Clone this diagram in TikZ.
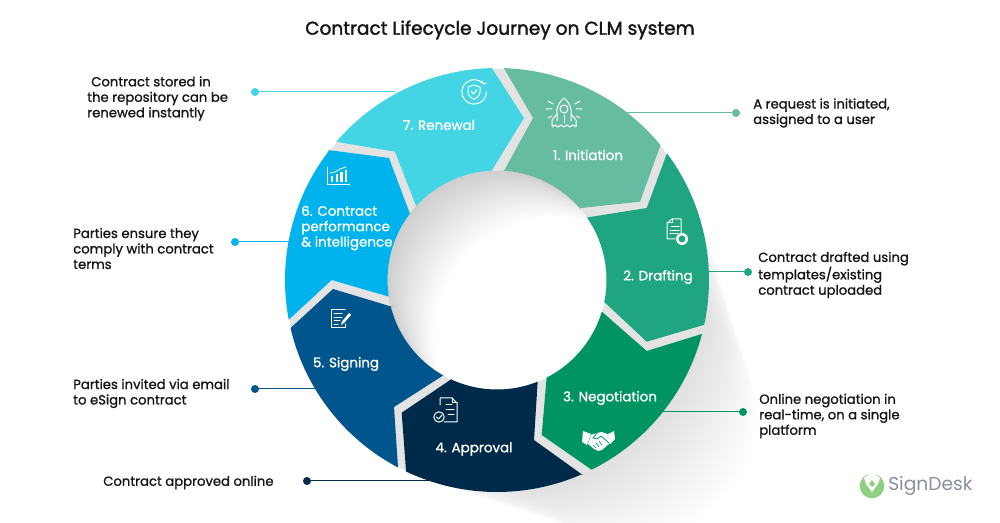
\documentclass[tikz,border=0pt]{standalone}
\usepackage{fontspec}
\setmainfont{Poppins}[FakeBold=1.1]
\newfontfamily\titlefont{Poppins}[FakeBold=1.8]
\newfontfamily\logofont{Poppins}
\definecolor{cseven}{HTML}{43D5E3}
\definecolor{cone}{HTML}{66BCA0}
\definecolor{ctwo}{HTML}{1FA680}
\definecolor{cthree}{HTML}{009463}
\definecolor{cfour}{HTML}{002A4A}
\definecolor{cfive}{HTML}{00568C}
\definecolor{csix}{HTML}{00B3EC}
\definecolor{cgap}{HTML}{E3E3E3}
\definecolor{ctext}{HTML}{151515}
\definecolor{clogo}{HTML}{8A909B}
\definecolor{cleaf}{HTML}{8FCF80}
\newcommand{\Ox}{497+212*cos(\x)}
\newcommand{\Oy}{280-212*sin(\x)}
\newcommand{\Ix}{497+109.5*cos(\x)}
\newcommand{\Iy}{280-109.5*sin(\x)}
\tikzset{
  x=0.75pt,y=-0.75pt,
  rim/.style={samples=40},
  seglabel/.style={text=white,font=\fontsize{10.1}{11.6}\selectfont,align=left,inner sep=0pt},
  note/.style={text=ctext,font=\fontsize{9.9}{11.6}\selectfont,align=left,inner sep=0pt,anchor=west},
  dotn/.style={circle,fill=#1,inner sep=0pt,minimum size=6pt},
  lead/.style={draw=#1,line width=0.75pt},
  icon/.style={draw=white,line width=0.75pt,line join=round,line cap=round},
}
\begin{document}
\begin{tikzpicture}
\useasboundingbox (0,0) rectangle (1000,523);
\fill[white] (0,0) rectangle (1000,523);
% outer long shadow
\begin{scope}
  \clip (0,0) rectangle (1000,523);
  \foreach \i in {1,...,30}{
    \fill[black,opacity=0.0042] ({497+\i*4.5},{280+\i*4.5}) circle[radius={(159-\i*2.2)*1pt}];
  }
\end{scope}
% connectors
\node[dotn=cseven] (d7) at (255,92) {};
\node[dotn=csix] (d6) at (235,242) {};
\node[dotn=cfive] (d5) at (255,389) {};
\node[dotn=cfour] (d4) at (307,481) {};
\node[dotn=cone] (d1) at (736,113) {};
\node[dotn=ctwo] (d2) at (748,272) {};
\node[dotn=cthree] (d3) at (743,412) {};
\coordinate (e7) at (395,92);
\coordinate (e6) at (295,242);
\coordinate (e5) at (325,389);
\coordinate (e4) at (440,481);
\coordinate (e1) at (618,113);
\coordinate (e2) at (695,272);
\coordinate (e3) at (650,412);
\draw[lead=cseven] (d7) -- (e7);
\draw[lead=csix] (d6) -- (e6);
\draw[lead=cfive] (d5) -- (e5);
\draw[lead=cfour] (d4) -- (e4);
\draw[lead=cone] (d1) -- (e1);
\draw[lead=ctwo] (d2) -- (e2);
\draw[lead=cthree] (d3) -- (e3);
% ring base (gaps)
\fill[cgap,even odd rule] (497,280) circle[radius=158.5pt] (497,280) circle[radius=82pt];
% hole
\fill[white] (497,280) circle[radius=82.2pt];
\begin{scope}
  \clip (497,280) circle[radius=82.2pt];
  \foreach \i in {1,...,24}{
    \fill[black,opacity=0.0065,even odd rule] (300,80) rectangle (700,480) ({497+\i*2.4},{280+\i*2.4}) circle[radius={(82+\i*0.35)*1pt}];
  }
\end{scope}
% segments
\fill[cone] (504,68.3) -- plot[rim,domain=88.1:39.5] ({\Ox},{\Oy}) -- (640,201.7) -- (581,208) -- plot[rim,domain=40.6:86.3] ({\Ix},{\Iy}) -- (533,118) -- cycle;
\fill[ctwo] (666.7,154) -- plot[rim,domain=36.6:-12.2] ({\Ox},{\Oy}) -- (646.7,341.7) -- (604,301.7) -- plot[rim,domain=-11.5:34.8] ({\Ix},{\Iy}) -- (646.7,208) -- cycle;
\fill[cthree] (701.7,334) -- plot[rim,domain=-14.8:-63.5] ({\Ox},{\Oy}) -- (541.7,435) -- (546.7,376.7) -- plot[rim,domain=-62.8:-16.8] ({\Ix},{\Iy}) -- (646.7,351) -- cycle;
\fill[cfour] (582.7,475) -- plot[rim,domain=-66.3:-115.4] ({\Ox},{\Oy}) -- (401.7,412.7) -- (451.7,379) -- plot[rim,domain=-114.6:-68.2] ({\Ix},{\Iy}) -- (534,440) -- cycle;
\fill[cfive] (398,467) -- plot[rim,domain=242.1:193.1] ({\Ox},{\Oy}) -- (333,289) -- (391.7,306.7) -- plot[rim,domain=194.2:240.6] ({\Ix},{\Iy}) -- (394,407) -- cycle;
\fill[csix] (328,150) -- plot[rim,domain=142.4:190.8] ({\Ox},{\Oy}) -- (331.7,280) -- (389,296.7) -- plot[rim,domain=188.8:142.7] ({\Ix},{\Iy}) -- (389,158) -- cycle;
\fill[cseven] (336,141.7) -- plot[rim,domain=139.3:91.4] ({\Ox},{\Oy}) -- (524,118) -- (491.7,170.7) -- plot[rim,domain=92.8:137.6] ({\Ix},{\Iy}) -- (395,151.7) -- cycle;
% title
\node[text=ctext,font=\titlefont\fontsize{13.9}{15}\selectfont,inner sep=0pt] (title) at (500,30) {Contract Lifecycle Journey on CLM system};
% segment labels
\node[seglabel] (l7) at (439,125) {7. Renewal};
\node[seglabel] (l1) at (588,155) {1. Initiation};
\node[seglabel] (l2) at (658,277) {2. Drafting};
\node[seglabel] (l3) at (610,398) {3. Negotiation};
\node[seglabel] (l4) at (474,449) {4. Approval};
\node[seglabel] (l5) at (346,364) {5. Signing};
\node[seglabel,anchor=west] (l6) at (301,228) {6. Contract\\performance\\\& intelligence};
% notes
\node[note] (n7) at (87,98.5) {\hspace*{3pt}Contract stored in\\the repository can be\\renewed instantly};
\node[note] (n6) at (73,248.5) {Parties ensure they\\comply with contract\\terms};
\node[note] (n5) at (73,393.5) {Parties invited via email\\to eSign contract};
\node[note] (n4) at (103,482.5) {Contract approved online};
\node[note] (n1) at (753,113) {A request is initiated,\\assigned to a user};
\node[note] (n2) at (758,275) {Contract drafted using\\templates/existing\\contract uploaded};
\node[note] (n3) at (759,416) {Online negotiation in\\real-time, on a single\\platform};
% icon 7: renewal shield
\begin{scope}[shift={(474,92)}]
  \draw[icon] (9.5,-8) arc[start angle=40,end angle=360,radius=9.2pt];
  \draw[icon] (8,-11) -- (9.5,-8) -- (12.5,-9);
  \draw[icon] (0,-7) -- (6,-5) -- (6,0) .. controls (6,4) and (2,6) .. (0,7.5) .. controls (-2,6) and (-6,4) .. (-6,0) -- (-6,-5) -- cycle;
  \draw[icon] (-2.5,-0.5) -- (-0.5,2) -- (3,-2.5);
\end{scope}
% icon 1: rocket
\begin{scope}[shift={(564,113)}]
  \draw[icon] (0,-15) .. controls (-5,-11) and (-8,-5) .. (-7,1) -- (-7,8) (0,-15) .. controls (5,-11) and (8,-5) .. (7,1) -- (7,8);
  \draw[icon] (-7,1) -- (-12,7) -- (-12,14) -- (-9,12) -- (-6,14) -- (-3,12) -- (0,14) -- (3,12) -- (6,14) -- (9,12) -- (12,14) -- (12,7) -- (7,1);
  \draw[icon] (0,-4) circle[radius=3pt];
  \draw[icon] (0,2) -- (0,10);
  \draw[icon] (-16,-12) -- (-11,-9) (-18,-4) -- (-12,-4) (-16,5) -- (-12,3);
  \draw[icon] (16,-12) -- (11,-9) (18,-4) -- (12,-4) (16,5) -- (12,3);
\end{scope}
% icon 2: document with clock
\begin{scope}[shift={(676,230)}]
  \draw[icon] (5,5) -- (5,-11) -- (-4,-11) -- (-9,-7) -- (-9,9) -- (-1,9);
  \draw[icon] (-5,-3) -- (3,-3) (-6,0.5) -- (3,0.5) (-6,4) -- (2,4);
  \draw[icon] (-4,-11) -- (-4,-7) -- (-9,-7);
  \fill[white] (6,9) circle[radius=4.5pt];
  \fill[ctwo] (6,9) circle[radius=2.6pt];
\end{scope}
% icon 3: handshake
\begin{scope}[shift={(599,440)}]
  \fill[white] (-16,-9) -- (-8,-6) -- (-12,5) -- (-17,2) -- cycle;
  \fill[white] (15,-9) -- (16,-1) -- (11,4) -- (7,-5) -- cycle;
  \fill[white] (-8,-5) -- (-2,-7) -- (3,-8) -- (8,-6) -- (11,3) -- (3,10) -- (-1,11) -- (-5,9) -- (-11,4) -- cycle;
  \draw[cthree,line width=0.6pt] (-2,-7) -- (-6,-2) -- (-2,-1) -- (2,-4) -- (10,3);
  \draw[cthree,line width=0.5pt] (-6,5) -- (-3,8) (-3,3) -- (0,7) (0,1) -- (3,5);
\end{scope}
% icon 4: document with check
\begin{scope}[shift={(446,411)}]
  \draw[icon] (-6,-6) -- (-6,-13) -- (6,-13) -- (11,-8) -- (11,11) -- (-2,11);
  \draw[icon] (6,-13) -- (6,-8) -- (11,-8);
  \draw[icon] (0,-6) -- (6,-6) (2,-1) -- (8,-1) (2,4) -- (8,4) (0,-1) -- (1,-1);
  \draw[icon] (-7,6) circle[radius=3.9pt];
  \draw[icon] (-9.5,6) -- (-7.5,8) -- (-4,4);
\end{scope}
% icon 5: document with pen
\begin{scope}[shift={(340,320)}]
  \draw[icon] (5,-10) -- (-9,-10) -- (-9,8) -- (5,8) -- (5,4);
  \draw[icon] (-6,-6) -- (2,-6) (-6,-2.5) -- (2,-2.5) (-6,1) -- (0,1) (-6,4.5) -- (-2,4.5);
  \fill[white] (9,-7) -- (11,-5) -- (4,3) -- (1,5) -- (2,1.5) -- cycle;
\end{scope}
% icon 6: chart
\begin{scope}[shift={(338,176)}]
  \draw[icon] (-10.5,-9) -- (-10.5,8.5) -- (11.5,8.5);
  \fill[white] (-2.5,6.5) rectangle (0,-2);
  \fill[white] (2,6.5) rectangle (4.5,-4);
  \fill[white] (6.5,6.5) rectangle (9,-6);
  \fill[white] (-7,6.5) rectangle (-5,0);
  \draw[icon,line width=0.6pt] (-8,-3) -- (-3,-4) -- (2,-7) -- (8,-9);
\end{scope}
% logo
\fill[cleaf] (872,486) circle[radius=9.2pt];
\fill[white] (872,472) -- (880,478) -- (878,484) -- (872,492) -- (866,484) -- (864,478) -- cycle;
\fill[cleaf] (872,480) -- (875,484) -- (872,487) -- (869,484) -- cycle;
\node[text=clogo,font=\logofont\fontsize{14}{15}\selectfont,inner sep=0pt,anchor=west] (logo) at (888,485.5) {SignDesk};
\end{tikzpicture}
\end{document}
